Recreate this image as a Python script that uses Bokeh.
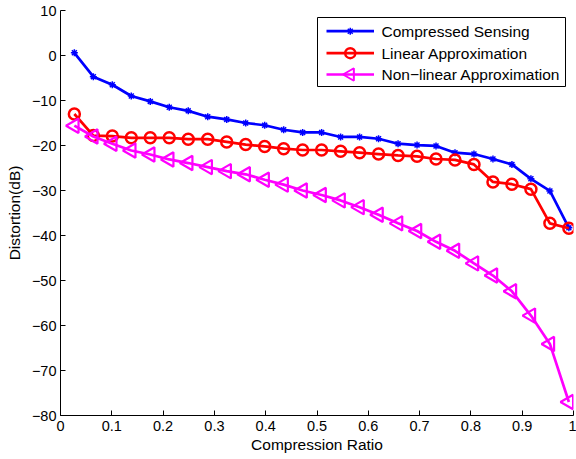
import math
from bokeh.plotting import figure
from bokeh.models import FixedTicker, Range1d
from bokeh.core.properties import value
from bokeh.embed import file_html
from bokeh.resources import INLINE

# ---- data ----
ratio = [0.027, 0.064, 0.101, 0.138, 0.175, 0.212, 0.249, 0.287, 0.324, 0.361,
         0.398, 0.435, 0.472, 0.509, 0.546, 0.583, 0.620, 0.658, 0.695, 0.732,
         0.769, 0.806, 0.843, 0.880, 0.917, 0.954, 0.991]
compressed_sensing = [0.6, -4.7, -6.5, -9.0, -10.2, -11.5, -12.3, -13.6, -14.2, -15.0,
                      -15.5, -16.5, -17.1, -17.1, -18.1, -18.1, -18.5, -19.6, -19.9, -20.1,
                      -21.6, -21.9, -23.0, -24.2, -27.4, -30.1, -38.3]
linear_approx = [-13.0, -17.8, -17.9, -18.3, -18.3, -18.3, -18.6, -18.6, -19.2, -19.8,
                 -20.2, -20.7, -21.0, -21.0, -21.3, -21.6, -21.9, -22.2, -22.4, -23.0,
                 -23.2, -24.2, -28.1, -28.6, -29.7, -37.3, -38.4]
nonlinear_approx = [-15.6, -18.0, -19.6, -21.1, -22.0, -23.1, -23.9, -24.8, -25.7, -26.4,
                    -27.6, -28.7, -30.0, -31.0, -32.2, -33.7, -35.4, -37.3, -39.0, -41.4,
                    -43.4, -46.2, -48.9, -52.4, -57.8, -64.1, -77.0]
series_names = ["Compressed Sensing", "Linear Approximation", "Non\u2212linear Approximation"]
x_ticks = [0, 0.1, 0.2, 0.3, 0.4, 0.5, 0.6, 0.7, 0.8, 0.9, 1.0]
x_tick_labels = ["0", "0.1", "0.2", "0.3", "0.4", "0.5", "0.6", "0.7", "0.8", "0.9", "1"]
y_ticks = [10, 0, -10, -20, -30, -40, -50, -60, -70, -80]
y_tick_labels = ["10", "0", "\u221210", "\u221220", "\u221230", "\u221240",
                 "\u221250", "\u221260", "\u221270", "\u221280"]

# ---- styles ----
FONT = "Liberation Sans"
colors = ["#0000ff", "#ff0000", "#ff00ff"]
FRAME_W, FRAME_H = 513, 405
LW = 2.7

p = figure(frame_width=FRAME_W, frame_height=FRAME_H, output_backend="svg",
           toolbar_location=None,
           x_range=Range1d(0, 1), y_range=Range1d(-80, 10),
           min_border_left=60, min_border_right=3, min_border_top=10, min_border_bottom=44)
p.outline_line_color = None
p.grid.visible = False
p.background_fill_color = "white"
p.border_fill_color = "white"

for ax in (p.xaxis[0], p.yaxis[0]):
    ax.major_tick_in = 5
    ax.major_tick_out = 0
    ax.minor_tick_line_color = None
    ax.axis_line_color = "black"
    ax.major_tick_line_color = "black"
    ax.major_label_text_font = FONT
    ax.major_label_text_font_size = "14.5px"
    ax.major_label_text_color = "black"
    ax.axis_label_text_font = FONT
    ax.axis_label_text_font_size = "15.5px"
    ax.axis_label_text_font_style = "normal"
    ax.axis_label_text_color = "black"

p.xaxis.ticker = FixedTicker(ticks=x_ticks)
p.xaxis.major_label_overrides = {t: l for t, l in zip(x_ticks, x_tick_labels)}
p.xaxis.major_label_standoff = 5
p.xaxis.axis_label = "Compression Ratio"
p.xaxis.axis_label_standoff = 2

p.yaxis.ticker = FixedTicker(ticks=y_ticks)
p.yaxis.major_label_overrides = {t: l for t, l in zip(y_ticks, y_tick_labels)}
p.yaxis.major_label_standoff = 4
p.yaxis.axis_label = "Distortion(dB)"
p.yaxis.axis_label_standoff = 6

# ---- series ----
p.line(ratio, compressed_sensing, line_color=colors[0], line_width=LW)
p.scatter(ratio, compressed_sensing, marker="asterisk", size=7,
          line_color=colors[0], line_width=1.5)
p.line(ratio, linear_approx, line_color=colors[1], line_width=LW)
p.scatter(ratio, linear_approx, marker="circle", size=11, fill_color=None,
          line_color=colors[1], line_width=2.5)
p.line(ratio, nonlinear_approx, line_color=colors[2], line_width=LW)
p.scatter(ratio, nonlinear_approx, marker="triangle", angle=math.pi / 2, size=14.5,
          fill_color=None, line_color=colors[2], line_width=2.2)

# ---- legend (drawn in frame pixel coordinates so that the '<' marker can be rotated) ----
p.extra_x_ranges = {"px": Range1d(0, FRAME_W)}
p.extra_y_ranges = {"px": Range1d(0, FRAME_H)}
box_l, box_r, box_b, box_t = 257, 505, 329, 398
row_y = [384.3, 362.3, 341]
line_x0, line_x1 = 266, 313.5
text_x = 321

p.quad(left=[box_l], right=[box_r], bottom=[box_b], top=[box_t],
       fill_color="white", line_color="black", line_width=1,
       x_range_name="px", y_range_name="px")
mid = (line_x0 + line_x1) / 2
for i in range(3):
    p.line([line_x0, line_x1], [row_y[i], row_y[i]], line_color=colors[i], line_width=LW,
           x_range_name="px", y_range_name="px")
p.scatter([mid], [row_y[0]], marker="asterisk", size=7, line_color=colors[0],
          line_width=1.5, x_range_name="px", y_range_name="px")
p.scatter([mid], [row_y[1]], marker="circle", size=10, fill_color=None,
          line_color=colors[1], line_width=2.5, x_range_name="px", y_range_name="px")
p.scatter([mid], [row_y[2]], marker="triangle", angle=math.pi / 2, size=12.5,
          fill_color=None, line_color=colors[2], line_width=2,
          x_range_name="px", y_range_name="px")
p.text(x=[text_x] * 3, y=row_y, text=series_names,
       text_font=value(FONT), text_font_size="15.5px", text_color="black",
       text_baseline="middle", text_align="left",
       x_range_name="px", y_range_name="px")

open("out.html", "w").write(file_html(p, INLINE))
